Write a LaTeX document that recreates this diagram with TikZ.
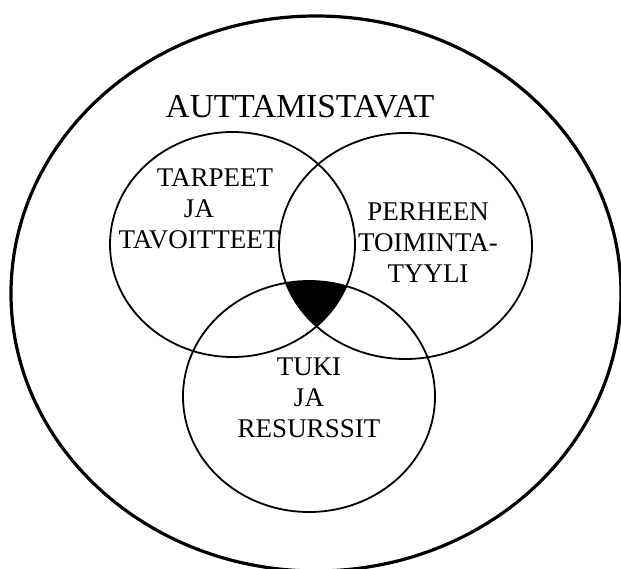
\documentclass[tikz,border=0pt]{standalone}
\usepackage{fontspec}
\setmainfont{Liberation Serif}
\tikzset{
  outerring/.style={draw, line width=3.2pt},
  setring/.style={draw, line width=1.8pt},
  toplbl/.style={font=\fontsize{33.5}{38}\selectfont, inner sep=0pt},
  setlbl/.style={font=\fontsize{27}{31}\selectfont, align=center, inner sep=0pt},
}

\begin{document}
\begin{tikzpicture}[x=1pt, y=-1pt]
  \clip (0,0) rectangle (621,569);
  % ring centres
  \coordinate (cO) at (316,293.5);
  \coordinate (cT) at (232.5,244.5);
  \coordinate (cP) at (405.5,246);
  \coordinate (cR) at (309,396.5);
  % black core, common to all three
  \begin{scope}
    \clip (cT) ellipse [x radius=122.5pt, y radius=112.5pt];
    \clip (cP) ellipse [x radius=126.5pt, y radius=113pt];
    \fill (cR) ellipse [x radius=126pt, y radius=115.5pt];
  \end{scope}
  \path[outerring] (cO) ellipse [x radius=305pt, y radius=277.5pt];
  \path[setring] (cT) ellipse [x radius=122.5pt, y radius=112.5pt];
  \path[setring] (cP) ellipse [x radius=126.5pt, y radius=113pt];
  \path[setring] (cR) ellipse [x radius=126pt, y radius=115.5pt];
  % labels
  \node[toplbl] (auttam) at (300,107) {AUTTAMISTAVAT};
  \node[setlbl] (tarpeet) at (199,209) {\hspace*{32pt}TARPEET\\JA\\TAVOITTEET};
  \node[setlbl] (perhe) at (428,243) {PERHEEN\\TOIMINTA-\\TYYLI};
  \node[setlbl] (tuki) at (309,398) {TUKI\\JA\\RESURSSIT};
\end{tikzpicture}
\end{document}
